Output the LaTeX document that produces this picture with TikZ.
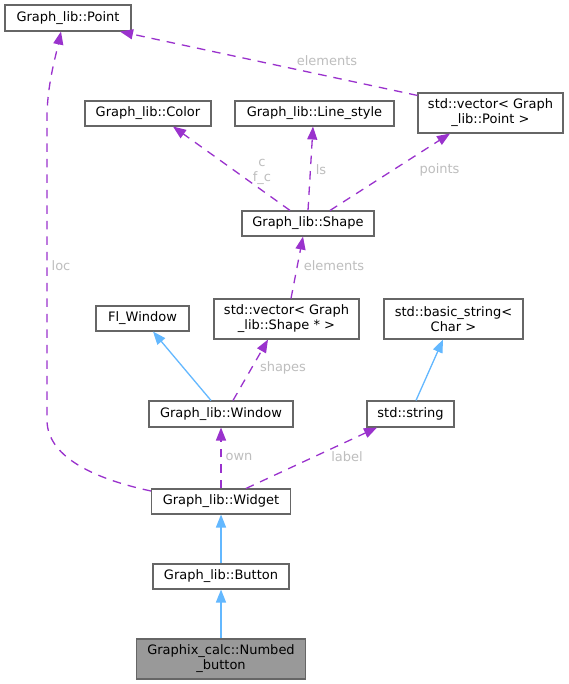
\documentclass[tikz,border=0pt]{standalone}
\usepackage{fontspec}
\setmainfont{DejaVu Sans}
\usetikzlibrary{arrows.meta,calc}
\definecolor{edgepurple}{HTML}{9A32CD}
\definecolor{edgeblue}{HTML}{63B8FF}
\definecolor{boxgray}{HTML}{666666}
\definecolor{labelgray}{HTML}{BEBEBE}
\definecolor{hilite}{HTML}{999999}
\begin{document}
\begin{tikzpicture}[x=1pt,y=-1pt,
  every node/.style={font=\fontsize{13}{15}\selectfont},
  cls/.style={draw=boxgray, line width=1.1pt, fill=white, inner sep=0pt, align=center, text=black},
  usage/.style={draw=edgepurple, line width=1.3pt, dash pattern=on 8.5pt off 7pt, -{Triangle[length=13pt,width=10pt]}},
  inherit/.style={draw=edgeblue, line width=1.3pt, -{Triangle[length=13pt,width=10pt]}},
  elabel/.style={text=labelgray, inner sep=0pt, align=center}]
\useasboundingbox (0,0) rectangle (569,684);
\fill[white] (0,0) rectangle (569,684);
% classes
\node[cls, minimum width=126pt, minimum height=26pt] (point) at (68,18) {Graph\_lib::Point};
\node[cls, minimum width=126pt, minimum height=25pt] (color) at (148,113.5) {Graph\_lib::Color};
\node[cls, minimum width=159pt, minimum height=25pt] (linestyle) at (314.5,113.5) {Graph\_lib::Line\_style};
\node[cls, minimum width=145pt, minimum height=40pt] (vecpoint) at (490.5,113) {std::vector\textless{} Graph\\\_lib::Point \textgreater{}};
\node[cls, minimum width=132pt, minimum height=25pt] (shape) at (308,223.5) {Graph\_lib::Shape};
\node[cls, minimum width=145pt, minimum height=40pt] (vecshape) at (286.5,319) {std::vector\textless{} Graph\\\_lib::Shape * \textgreater{}};
\node[cls, minimum width=93pt, minimum height=25pt] (flwindow) at (142.5,318.5) {Fl\_Window};
\node[cls, minimum width=139pt, minimum height=40pt] (basicstr) at (453.5,319) {std::basic\_string\textless{}\\Char \textgreater{}};
\node[cls, minimum width=144pt, minimum height=26pt] (window) at (221,414) {Graph\_lib::Window};
\node[cls, minimum width=87pt, minimum height=26pt] (string) at (410.5,414) {std::string};
\node[cls, minimum width=139pt, minimum height=25pt] (widget) at (221,501.5) {Graph\_lib::Widget};
\node[cls, minimum width=136pt, minimum height=25pt] (button) at (221,576.5) {Graph\_lib::Button};
\node[cls, fill=hilite, minimum width=169pt, minimum height=40pt] (numbed) at (221,659) {Graphix\_calc::Numbed\\\_button};
% inheritance
\draw[inherit] (button.north) -- (button.north |- widget.south);
\draw[inherit] (numbed.north) -- (numbed.north |- button.south);
\draw[inherit] ([xshift=-10pt]window.north) -- ([xshift=10.5pt]flwindow.south);
\draw[inherit] ([xshift=5.5pt]string.north) -- ([xshift=-10.5pt]basicstr.south);
% usage
\draw[usage] (widget.north) -- (widget.north |- window.south);
\draw[usage] ([xshift=25pt]widget.north) -- ([xshift=-33.5pt]string.south);
\draw[usage] ([xshift=12pt]window.north) -- ([xshift=-18.5pt]vecshape.south);
\draw[usage] ([xshift=4.5pt]vecshape.north) -- ([xshift=-5pt]shape.south);
\draw[usage] ([xshift=-18pt]shape.north) -- ([xshift=25pt]color.south);
\draw[usage] (shape.north) -- ([xshift=-1.5pt]linestyle.south);
\draw[usage] ([xshift=22pt]shape.north) -- ([xshift=-40.5pt]vecpoint.south);
\draw[usage] ([yshift=-3pt]vecpoint.north west) -- ([xshift=52pt]point.south);
\coordinate (locA) at (47,420);
\coordinate (locB) at (47,118);
\draw[usage] ([yshift=10.5pt]widget.west) .. controls (90,478) and (47,455) .. (locA) -- (locB) .. controls (47,85) and (56,55) .. ([xshift=-7pt]point.south);
% edge labels
\node[elabel] (lelemtop) at (327,61) {elements};
\node[elabel] (lcfc) at (262,171.5) {c\\f\_c};
\node[elabel] (lls) at (321,170) {ls};
\node[elabel] (lpoints) at (439.5,170) {points};
\node[elabel] (lelemmid) at (334,266) {elements};
\node[elabel] (lloc) at (61,266) {loc};
\node[elabel] (lshapes) at (283,368) {shapes};
\node[elabel] (lown) at (239,457) {own};
\node[elabel] (llabel) at (347,457) {label};
\end{tikzpicture}
\end{document}
